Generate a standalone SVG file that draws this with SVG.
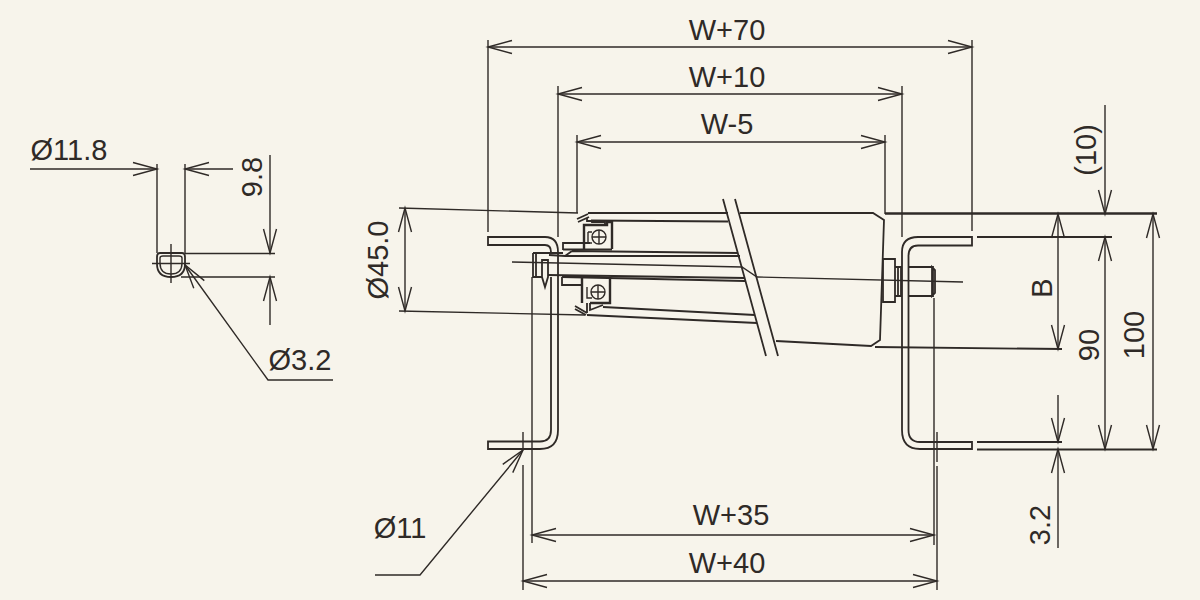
<svg xmlns="http://www.w3.org/2000/svg" width="1200" height="600" viewBox="0 0 1200 600">
<style>
.bg{fill:#f7f4eb}
path,line,circle,rect{fill:none;stroke:#2f2a27;stroke-width:1.4}
.bg{stroke:none}
.o{stroke-width:1.8}
.h{stroke-width:2.4}
.d{marker-start:url(#a);marker-end:url(#a)}
.e{marker-end:url(#a)}
text{font-family:"Liberation Sans",Arial,sans-serif;font-size:29px;fill:#2f2a27;text-anchor:middle}
</style>
<defs>
<marker id="a" markerUnits="userSpaceOnUse" markerWidth="30" markerHeight="18" refX="25" refY="9" orient="auto-start-reverse" overflow="visible">
<path d="M1,2.500 L25,9 L1,15.500" style="stroke-width:1.4"/>
</marker>
</defs>
<rect class="bg" width="1200" height="600"/>

<g id="connectors">
<path d="M488,40V232M972,40V231M558,86V237M902,86V237M577,135V213M885,135V214"/>
<path d="M523,432V450M523,465V590M532,277V543M934,298V545M937,432V462M937,466V590"/>
<path d="M399,208L578,213M399,311L585,315"/>
<path d="M885,213.500H1157" class="h"/>
<path d="M977,237H1112M875,347L1062,349M977,442H1062M977,449.500H1157" class="o"/>
<path class="d" d="M488,47H972"/>
<path class="d" d="M558,94H902"/>
<path class="d" d="M577,142H885"/>
<path class="d" d="M532,535H934"/>
<path class="d" d="M523,581H937"/>
<path class="d" d="M405,208V311"/>
<path class="d" d="M1058,214V349"/>
<path class="d" d="M1105,237V449"/>
<path class="d" d="M1153,214V449"/>
<path class="e" d="M1105,105V214"/>
<path class="e" d="M1058,395V442"/>
<path class="e" d="M1058,548V449"/>
<path class="e" d="M30,169H157"/>
<path class="e" d="M233,169H185"/>
<path d="M157,164V253M185,164V253M185,253.500H275M181,277H275"/>
<path class="e" d="M270,155V253"/>
<path class="e" d="M270,325V277"/>
<path class="e" d="M333,380H268L185,265"/>
<path class="e" d="M375,575H420L523,450"/>
</g>

<g id="roller">
<path class="o" d="M588,213H728M740,213H873L884,220L880,340L871,346L776,341"/>
<path class="o" d="M591,220.500L728,221.500M603,307L755,315M587,315L757,323"/>
<path class="o" d="M723,199L766,356M735,199L778,356"/>
<path d="M512,262L742,267L757,277L963,282"/>
</g>

<g id="shaft">
<path class="o" d="M572,251L738,253M549,255L565,256L572,251M565,256L740,256M548,275L745,278M562,277L745,281"/>
<path class="o" d="M533,253H563M533,253V277H542M536,253V277"/>
<path class="o" d="M542,260H548V277L545,287L542,277Z"/>
<path class="o" d="M563,250V243H590M562,277V285H582"/>
<path class="o" d="M563,249.500H612"/>
</g>

<g id="bearing-top">
<path class="h" d="M584,249V225H607V222H612V249"/>
<circle cx="599" cy="237" r="7"/>
<path d="M592,237H606M599,230V244M588,232V243H592M588,232H592"/>
<path class="o" d="M577,219L588,214M578,222L589,217M587,218V221H592V222H605V225"/>
</g>
<g id="bearing-bottom">
<path class="h" d="M582,303V277M610,277V303H590"/>
<circle cx="598" cy="292" r="7"/>
<path d="M591,292H605M598,285V299M587,287V298H592"/>
<path class="o" d="M575,306L587,313M575,309L586,315M587,303V313M590,303V310L603,305"/>
</g>

<g id="bolt">
<path class="o" d="M883,259H895V302H883ZM895,267H901V296H895M898,267V296M908,267H933V296H908M932,267L935,270V293L932,296Z"/>
</g>

<g id="bracket-left">
<path class="o" d="M551,252Q551,245 545,245H488V237H545Q558,237 558,252V430Q558,449 540,449H488V441.500H540Q551,441.500 551,430V277"/>
</g>
<g id="bracket-right">
<path class="o" d="M972,237V245.500H918Q908.500,245.500 908.500,256V430Q908.500,442 920,442H972V449H920Q902,449 902,430V252Q902,237 918,237Z"/>
</g>

<g id="pin">
<path class="o" d="M160,253H182Q185,253 185,257V264Q185,277 171,277Q157,277 157,264V257Q157,253 160,253Z"/>
<path d="M160,263V258Q160,256 163,256H179Q182,256 182,258V263M160,263Q160,274 171,274Q182,274 182,263"/>
<path d="M152,263.500H190M171,244V283"/>
</g>

<g id="labels">
<text x="727" y="40">W+70</text>
<text x="727" y="87">W+10</text>
<text x="727" y="134">W-5</text>
<text x="731" y="525">W+35</text>
<text x="727" y="573">W+40</text>
<text x="69" y="160">Ø11.8</text>
<text x="300" y="370">Ø3.2</text>
<text x="400" y="538">Ø11</text>
<text transform="translate(388,260) rotate(-90)">Ø45.0</text>
<text transform="translate(262,177) rotate(-90)">9.8</text>
<text transform="translate(1096,150) rotate(-90)">(10)</text>
<text transform="translate(1052,288) rotate(-90)">B</text>
<text transform="translate(1099,345) rotate(-90)">90</text>
<text transform="translate(1144,335) rotate(-90)">100</text>
<text transform="translate(1050,525) rotate(-90)">3.2</text>
</g>
</svg>
